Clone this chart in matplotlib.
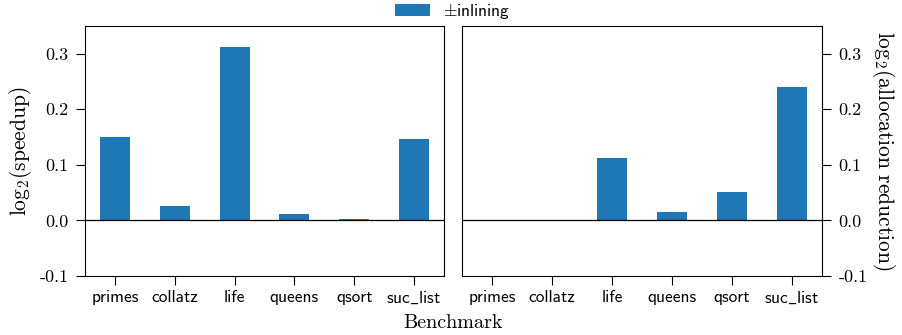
import matplotlib
matplotlib.use("Agg")
import matplotlib.pyplot as plt
import numpy as np

plt.rcParams["mathtext.fontset"] = "cm"
plt.rcParams["axes.unicode_minus"] = False
plt.rcParams["axes.formatter.use_mathtext"] = True

benchmarks = ["primes", "collatz", "life", "queens", "qsort", "suc_list"]
speedup = [0.151, 0.026, 0.313, 0.012, 0.003, 0.147]
alloc_reduction = [0.001, 0.001, 0.113, 0.016, 0.052, 0.241]
yticks = [-0.1, 0.0, 0.1, 0.2, 0.3]

# cmss10 has no real underscore glyph, draw it through mathtext
tick_names = [b.replace("_", r"$\_$") for b in benchmarks]

fig = plt.figure(figsize=(9.02, 3.35), dpi=100)
ax1 = fig.add_axes([0.0942, 0.1761, 0.398, 0.7463])
ax2 = fig.add_axes([0.5122, 0.1761, 0.3991, 0.7463])

x = np.arange(len(benchmarks))
for ax, vals in [(ax1, speedup), (ax2, alloc_reduction)]:
    ax.bar(x, vals, width=0.5, color="#1f77b4", label=r"$\pm$inlining")
    ax.axhline(0, color="black", linewidth=0.9)
    ax.set_ylim(-0.1, 0.35)
    ax.set_xlim(-0.5, 5.5)
    ax.set_xticks(x)
    ax.set_xticklabels(tick_names, family="cmss10", fontsize=12.5)
    ax.set_yticks(yticks)
    ax.set_yticklabels([f"{t:.1f}" for t in yticks], family="cmr10", fontsize=13)
    ax.tick_params(length=6.5)
    ax.tick_params(axis="y", pad=5.5)

# \mathrm{log} instead of \log: no operator gap before the bracket
ax1.set_ylabel(r"$\mathrm{log}_2(\mathrm{speedup})$", fontsize=15.5, labelpad=4)
ax2.yaxis.tick_right()
ax2.yaxis.set_label_position("right")
ax2.set_ylabel(r"$\mathrm{log}_2(\mathrm{allocation\ reduction})$", fontsize=15.5,
               rotation=270, labelpad=21)

fig.text(0.502, 0.02, "Benchmark", family="cmr10", fontsize=14.5, ha="center")
handles, labels = ax1.get_legend_handles_labels()
fig.legend(handles, labels, loc="upper center", bbox_to_anchor=(0.502, 1.04),
           frameon=False, prop={"family": "cmss10", "size": 12.5})

fig.savefig("out.png", dpi=100)
